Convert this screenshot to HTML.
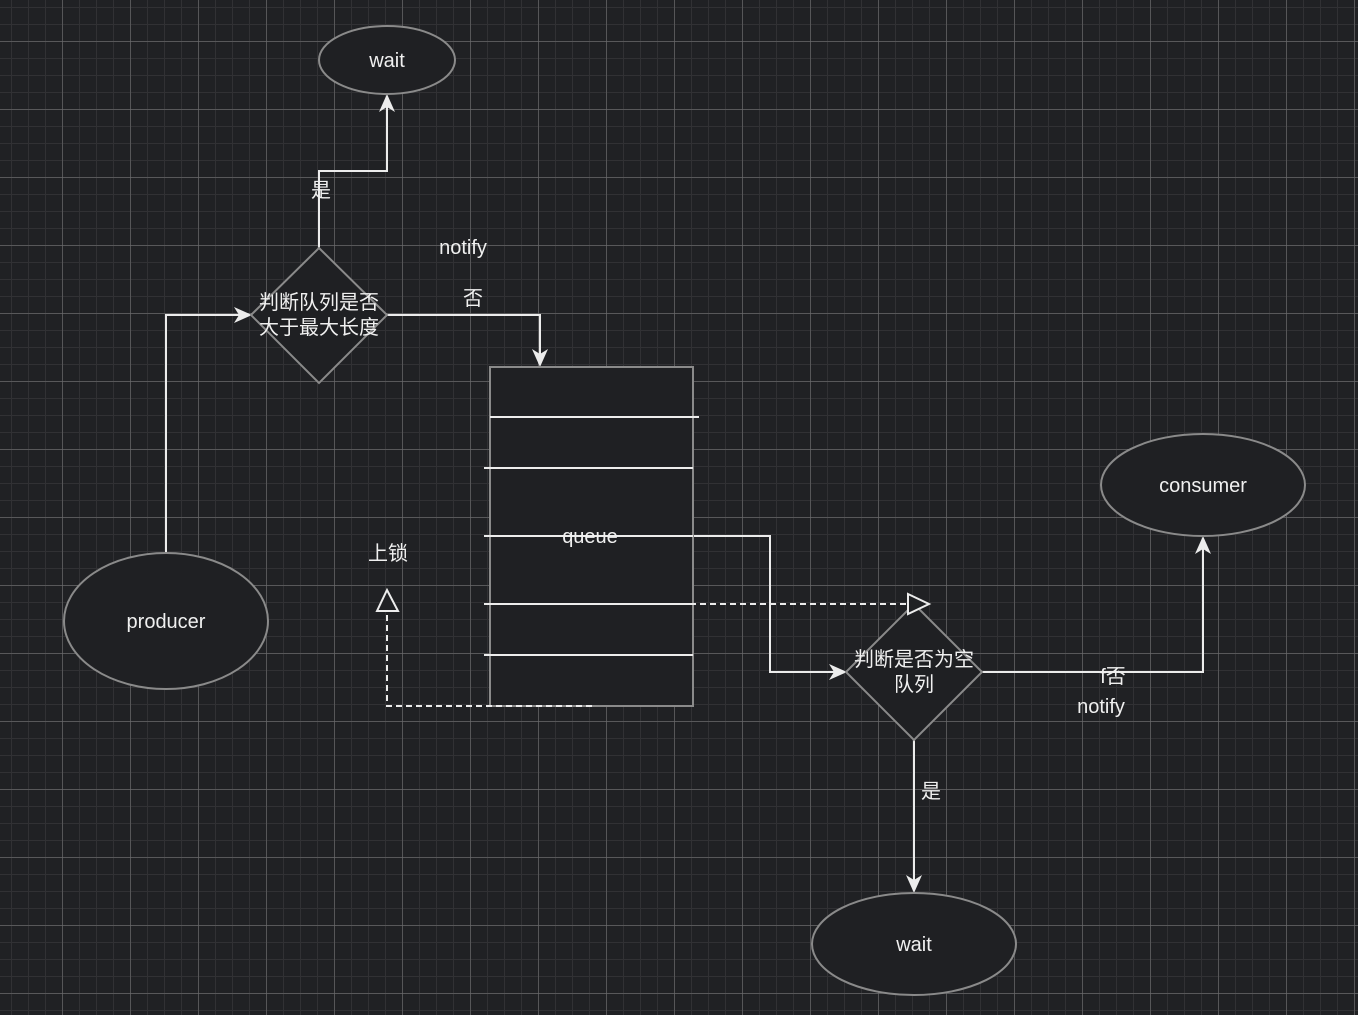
<!DOCTYPE html>
<html><head><meta charset="utf-8"><style>
html,body{margin:0;padding:0;background:#202124;}
svg{display:block;}
text{font-family:"Liberation Sans","Noto Sans CJK SC",sans-serif;fill:#f0f0f0;font-size:20px;}
</style></head><body>
<svg width="1358" height="1015" viewBox="0 0 1358 1015" xmlns="http://www.w3.org/2000/svg">
<defs>
<pattern id="minor" x="-6" y="7" width="17" height="17" patternUnits="userSpaceOnUse">
<path d="M0 0H17M0 0V17" stroke="#313134" stroke-width="2" fill="none"/>
</pattern>
<pattern id="major" x="62" y="41" width="68" height="68" patternUnits="userSpaceOnUse">
<path d="M0 0H68M0 0V68" stroke="#6e6e70" stroke-width="1.2" fill="none"/>
</pattern>
</defs>
<rect width="1358" height="1015" fill="#202124"/>
<rect width="1358" height="1015" fill="url(#minor)"/>
<rect width="1358" height="1015" fill="url(#major)"/>

<g stroke="#ececec" stroke-width="2" fill="none">
<path d="M166 553V315H240"/>
<path d="M319 248V171H387V106"/>
<path d="M387 315H540V355"/>
<path d="M693 536H770V672H835"/>
<path d="M982 672H1203V548"/>
<path d="M914 740V881"/>
</g>
<g fill="#ececec">
<path d="M252 315L234 307L239 315L234 323Z"/>
<path d="M387 94L379 112L387 107L395 112Z"/>
<path d="M540 367L532 349L540 354L548 349Z"/>
<path d="M847 672L829 664L834 672L829 680Z"/>
<path d="M1203 536L1195 554L1203 549L1211 554Z"/>
<path d="M914 893L906 875L914 880L922 875Z"/>
</g>

<g fill="#1f2023" stroke="#8a8a8a" stroke-width="2">
<ellipse cx="387" cy="60" rx="68" ry="34"/>
<ellipse cx="166" cy="621" rx="102" ry="68"/>
<ellipse cx="1203" cy="485" rx="102" ry="51"/>
<ellipse cx="914" cy="944" rx="102" ry="51"/>
<path d="M319 248L387 315L319 383L251 315Z"/>
<path d="M914 604L982 672L914 740L846 672Z"/>
<rect x="490" y="367" width="203" height="339"/>
</g>
<g stroke="#ececec" stroke-width="2">
<path d="M490 417H699M484 468H693M484 536H693M484 604H693M484 655H693"/>
</g>
<g stroke="#ececec" stroke-width="2" fill="none" stroke-dasharray="6 4">
<path d="M660 604H908"/>
<path d="M592 706H387V612"/>
</g>
<g stroke="#ececec" stroke-width="2" fill="#202124">
<path d="M908 594L929 604L908 614Z"/>
<path d="M387 590L377 611L398 611Z"/>
</g>

<g text-anchor="middle">
<text x="387" y="67">wait</text>
<text x="166" y="628">producer</text>
<text x="1203" y="492">consumer</text>
<text x="914" y="951">wait</text>
<text x="590" y="543">queue</text>
<text x="319" y="309">判断队列是否</text>
<text x="319" y="334">大于最大长度</text>
<text x="914" y="666">判断是否为空</text>
<text x="914" y="691">队列</text>
<text x="321" y="197">是</text>
<text x="463" y="254">notify</text>
<text x="473" y="305">否</text>
<text x="388" y="560">上锁</text>
<text x="1113" y="683">f否</text>
<text x="1101" y="713">notify</text>
<text x="931" y="798">是</text>
</g>
</svg>
</body></html>
